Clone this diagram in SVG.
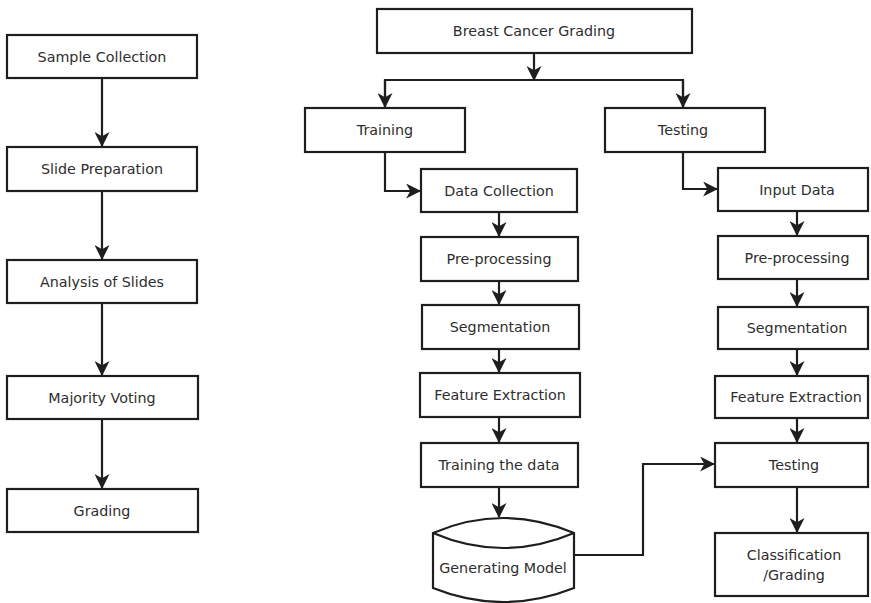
<svg xmlns="http://www.w3.org/2000/svg" width="871" height="603" viewBox="0 0 871 603">
<style>
.box{fill:#fff;stroke:#1e1e1e;stroke-width:2.2}
.lbl{font-family:"DejaVu Sans",sans-serif;font-size:14.3px;fill:#2e2e2e;text-anchor:middle;dominant-baseline:central}
.con{fill:none;stroke:#1e1e1e;stroke-width:2.2}
</style>
<defs>
<marker id="ah" viewBox="0 0 14 14" refX="13" refY="7" markerWidth="15" markerHeight="15" markerUnits="userSpaceOnUse" orient="auto">
<path d="M0,0 L14,7 L0,14 L4,7 z" fill="#1e1e1e"/>
</marker>
</defs>
<rect width="871" height="603" fill="#fff"/>
<g id="connectors">
<path class="con" d="M102,78 V146" marker-end="url(#ah)"/>
<path class="con" d="M102,191 V259" marker-end="url(#ah)"/>
<path class="con" d="M102,303 V375" marker-end="url(#ah)"/>
<path class="con" d="M102,419 V488" marker-end="url(#ah)"/>
<path class="con" d="M534,53 V80" marker-end="url(#ah)"/>
<path class="con" d="M385,107 V80 H683 V107" />
<path class="con" d="M385,80 V107" marker-end="url(#ah)"/>
<path class="con" d="M683,80 V107" marker-end="url(#ah)"/>
<path class="con" d="M385,152 V191 H420" marker-end="url(#ah)"/>
<path class="con" d="M683,152 V189 H717" marker-end="url(#ah)"/>
<path class="con" d="M499,212 V236" marker-end="url(#ah)"/>
<path class="con" d="M499,281 V304" marker-end="url(#ah)"/>
<path class="con" d="M499,349 V372" marker-end="url(#ah)"/>
<path class="con" d="M499,417 V442" marker-end="url(#ah)"/>
<path class="con" d="M499,487 V517" marker-end="url(#ah)"/>
<path class="con" d="M797,211 V235" marker-end="url(#ah)"/>
<path class="con" d="M797,279 V306" marker-end="url(#ah)"/>
<path class="con" d="M797,349 V375" marker-end="url(#ah)"/>
<path class="con" d="M797,418 V442" marker-end="url(#ah)"/>
<path class="con" d="M797,487 V532" marker-end="url(#ah)"/>
<path class="con" d="M574,555 H643 V464 H714" marker-end="url(#ah)"/>
</g>
<g id="sample-collection"><rect class="box" x="7" y="35" width="190" height="43"/><text class="lbl" x="102" y="56.5">Sample Collection</text></g>
<g id="slide-preparation"><rect class="box" x="7" y="147" width="190" height="44"/><text class="lbl" x="102" y="169">Slide Preparation</text></g>
<g id="analysis-of-slides"><rect class="box" x="7" y="260" width="190" height="43"/><text class="lbl" x="102" y="281.5">Analysis of Slides</text></g>
<g id="majority-voting"><rect class="box" x="7" y="376" width="191" height="43"/><text class="lbl" x="102" y="397.5">Majority Voting</text></g>
<g id="grading"><rect class="box" x="7" y="489" width="191" height="43"/><text class="lbl" x="102" y="510.5">Grading</text></g>
<g id="breast-cancer-grading"><rect class="box" x="377" y="9" width="315" height="44"/><text class="lbl" x="534" y="31">Breast Cancer Grading</text></g>
<g id="training"><rect class="box" x="305" y="108" width="160" height="44"/><text class="lbl" x="385" y="130">Training</text></g>
<g id="testing-top"><rect class="box" x="605" y="108" width="160" height="44"/><text class="lbl" x="683" y="130">Testing</text></g>
<g id="data-collection"><rect class="box" x="421" y="169" width="156" height="43"/><text class="lbl" x="499" y="190.5">Data Collection</text></g>
<g id="pre-processing-train"><rect class="box" x="421" y="237" width="157" height="44"/><text class="lbl" x="499" y="259">Pre-processing</text></g>
<g id="segmentation-train"><rect class="box" x="422" y="305" width="157" height="44"/><text class="lbl" x="500" y="327">Segmentation</text></g>
<g id="feature-extraction-train"><rect class="box" x="420" y="373" width="160" height="44"/><text class="lbl" x="500" y="395">Feature Extraction</text></g>
<g id="training-the-data"><rect class="box" x="421" y="443" width="157" height="44"/><text class="lbl" x="499" y="465">Training the data</text></g>
<g id="generating-model">
<path class="box" d="M433,533 Q503,503 574,533 V588 Q503,616 433,588 Z"/>
<path class="con" d="M433,533 Q503,563 574,533"/>
<text class="lbl" x="503" y="568">Generating Model</text>
</g>
<g id="input-data"><rect class="box" x="718" y="168" width="150" height="43"/><text class="lbl" x="797" y="189.5">Input Data</text></g>
<g id="pre-processing-test"><rect class="box" x="718" y="236" width="150" height="43"/><text class="lbl" x="797" y="257.5">Pre-processing</text></g>
<g id="segmentation-test"><rect class="box" x="718" y="307" width="150" height="42"/><text class="lbl" x="797" y="328">Segmentation</text></g>
<g id="feature-extraction-test"><rect class="box" x="715" y="376" width="153" height="42"/><text class="lbl" x="796" y="397">Feature Extraction</text></g>
<g id="testing"><rect class="box" x="715" y="443" width="153" height="44"/><text class="lbl" x="794" y="465">Testing</text></g>
<g id="classification-grading"><rect class="box" x="715" y="533" width="153" height="63"/><text class="lbl" x="794" y="555">Classification</text><text class="lbl" x="794" y="575">/Grading</text></g>
</svg>
